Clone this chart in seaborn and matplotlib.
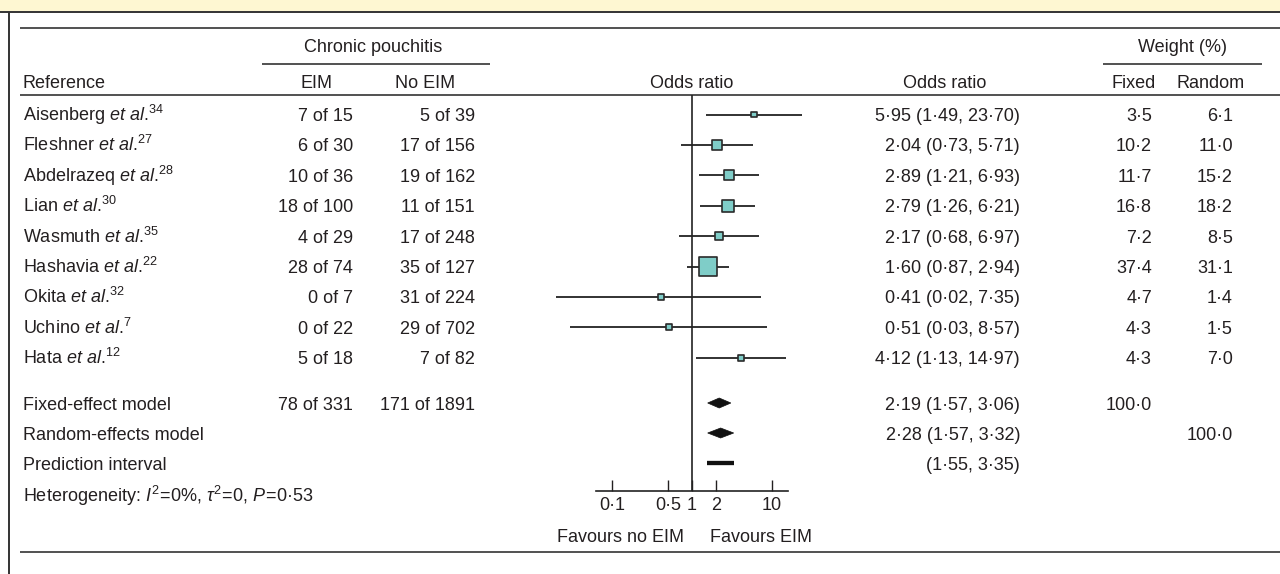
import numpy as np
import pandas as pd
import matplotlib
matplotlib.use("Agg")
import matplotlib.pyplot as plt
import seaborn as sns
from matplotlib.patches import Polygon, Rectangle
from matplotlib.ticker import NullLocator

sns.set_theme(style="white")
plt.rcParams["font.family"] = ["Liberation Sans", "DejaVu Sans"]
plt.rcParams["mathtext.fontset"] = "custom"
plt.rcParams["mathtext.rm"] = "Liberation Sans"
plt.rcParams["mathtext.it"] = "Liberation Sans:italic"
plt.rcParams["mathtext.bf"] = "Liberation Sans:bold"

# ---------------- data ----------------
studies = ["Aisenberg", "Fleshner", "Abdelrazeq", "Lian", "Wasmuth",
           "Hashavia", "Okita", "Uchino", "Hata"]
ref_nums = ["34", "27", "28", "30", "35", "22", "32", "7", "12"]
eim_events = [7, 6, 10, 18, 4, 28, 0, 0, 5]
eim_total = [15, 30, 36, 100, 29, 74, 7, 22, 18]
noeim_events = [5, 17, 19, 11, 17, 35, 31, 29, 7]
noeim_total = [39, 156, 162, 151, 248, 127, 224, 702, 82]
odds = [5.95, 2.04, 2.89, 2.79, 2.17, 1.60, 0.41, 0.51, 4.12]
ci_low = [1.49, 0.73, 1.21, 1.26, 0.68, 0.87, 0.02, 0.03, 1.13]
ci_high = [23.70, 5.71, 6.93, 6.21, 6.97, 2.94, 7.35, 8.57, 14.97]
w_fixed = [3.5, 10.2, 11.7, 16.8, 7.2, 37.4, 4.7, 4.3, 4.3]
w_random = [6.1, 11.0, 15.2, 18.2, 8.5, 31.1, 1.4, 1.5, 7.0]

fixed_total = ("78 of 331", "171 of 1891")
fixed_or = [2.19, 1.57, 3.06]
random_or = [2.28, 1.57, 3.32]
pred_int = [1.55, 3.35]
tick_vals = [0.1, 0.5, 1, 2, 10]
tick_labels = ["0·1", "0·5", "1", "2", "10"]

# ---------------- style ----------------
FS = 13
TXT = "#231f20"
RULE = "#333333"
TEAL = "#7fcdc8"
YELLOW = "#fef7d2"
W, H = 1280, 574


def fmt(v, d=2):
    return f"{v:.{d}f}".replace(".", "·")


fig = plt.figure(figsize=(W / 100, H / 100), dpi=100)
bg = fig.add_axes([0, 0, 1, 1])
bg.set_xlim(0, W)
bg.set_ylim(H, 0)
bg.axis("off")

base_off = 0.36 * FS * 100 / 72


def put(x, y, s, ha="left"):
    bg.text(x, y + base_off, s, ha=ha, va="baseline", fontsize=FS, color=TXT)


# frame
bg.add_patch(Rectangle((0, 0), W, 11, facecolor=YELLOW, edgecolor="none"))
bg.hlines(11.5, 0, W, color=RULE, lw=1.4)
bg.vlines(9, 11.5, H, color=RULE, lw=1.4)
for yy in (28, 95, 552):
    bg.hlines(yy, 20, W, color=RULE, lw=1.2)
bg.hlines(64, 262, 490, color=RULE, lw=1.2)
bg.hlines(64, 1103, 1262, color=RULE, lw=1.2)

# headers
put(373, 45, "Chronic pouchitis", "center")
put(1182, 45, "Weight (%)", "center")
put(23, 81, "Reference")
put(316, 81, "EIM", "center")
put(425, 81, "No EIM", "center")
put(692, 81, "Odds ratio", "center")
put(945, 81, "Odds ratio", "center")
put(1134, 81, "Fixed", "center")
put(1211, 81, "Random", "center")

X_EIM, X_NO, X_OR, X_WF, X_WR = 353, 475, 1020, 1152, 1233
row_y = [114.5 + 30.4 * i for i in range(len(studies))]
Y_FIXED, Y_RANDOM, Y_PRED, Y_HET = 403, 433, 463, 496

for i, name in enumerate(studies):
    y = row_y[i]
    put(23, y, name + r" $\it{et\ al}$." + r"$^{" + ref_nums[i] + r"}$")
    put(X_EIM, y, f"{eim_events[i]} of {eim_total[i]}", "right")
    put(X_NO, y, f"{noeim_events[i]} of {noeim_total[i]}", "right")
    put(X_OR, y, f"{fmt(odds[i])} ({fmt(ci_low[i])}, {fmt(ci_high[i])})", "right")
    put(X_WF, y, fmt(w_fixed[i], 1), "right")
    put(X_WR, y, fmt(w_random[i], 1), "right")

put(23, Y_FIXED, "Fixed-effect model")
put(X_EIM, Y_FIXED, fixed_total[0], "right")
put(X_NO, Y_FIXED, fixed_total[1], "right")
put(X_OR, Y_FIXED, f"{fmt(fixed_or[0])} ({fmt(fixed_or[1])}, {fmt(fixed_or[2])})", "right")
put(X_WF, Y_FIXED, fmt(100, 1), "right")
put(23, Y_RANDOM, "Random-effects model")
put(X_OR, Y_RANDOM, f"{fmt(random_or[0])} ({fmt(random_or[1])}, {fmt(random_or[2])})", "right")
put(X_WR, Y_RANDOM, fmt(100, 1), "right")
put(23, Y_PRED, "Prediction interval")
put(X_OR, Y_PRED, f"({fmt(pred_int[0])}, {fmt(pred_int[1])})", "right")
put(23, Y_HET, r"Heterogeneity: $I^{2}\!=\!0\%$, $\tau^{2}\!=\!0$, $P\!=\!0$·53")

put(684, 535, "Favours no EIM", "right")
put(710, 535, "Favours EIM", "left")

# ---------------- forest axes ----------------
AX_L, AX_R, AX_T, AX_B = 596, 788, 95, 490.7
fx = fig.add_axes([AX_L / W, (H - AX_B) / H, (AX_R - AX_L) / W, (AX_B - AX_T) / H])
fx.set_xscale("log")
fx.patch.set_alpha(0)

fx.hlines(row_y, ci_low, ci_high, color="#222222", lw=1.3, zorder=2, clip_on=False)

df = pd.DataFrame({"odds": odds, "y": row_y, "w": w_fixed})
smax = (18.3 * 0.72) ** 2
sns.scatterplot(data=df, x="odds", y="y", size="w", sizes=(0, smax),
                size_norm=(0, max(w_fixed)), marker="s", color=TEAL,
                edgecolor="#2a2a2a", linewidth=1.2, legend=False, ax=fx,
                zorder=3, clip_on=False)

for est, lo, hi, yy in ((fixed_or[0], fixed_or[1], fixed_or[2], Y_FIXED),
                        (random_or[0], random_or[1], random_or[2], Y_RANDOM)):
    fx.add_patch(Polygon([[lo, yy], [est, yy - 5], [hi, yy], [est, yy + 5]],
                         closed=True, facecolor="#111111", edgecolor="#111111",
                         lw=0.5, zorder=3))
fx.hlines(Y_PRED, pred_int[0], pred_int[1], color="#111111", lw=3.1,
          capstyle="butt", zorder=3)

fx.axvline(1, color="#222222", lw=1.2, zorder=1)
fx.set_xlim(10 ** -1.2, 10 ** 1.2)
fx.set_ylim(AX_B, AX_T)
fx.set_xlabel("")
fx.set_ylabel("")
fx.set_yticks([])
fx.set_xticks(tick_vals)
fx.set_xticklabels(tick_labels)
fx.xaxis.set_minor_locator(NullLocator())
fx.tick_params(axis="x", direction="in", length=7.7, width=1.0, pad=4.5,
               labelsize=FS, colors=TXT, bottom=True)
for side in ("top", "left", "right"):
    fx.spines[side].set_visible(False)
fx.spines["bottom"].set_color("#222222")
fx.spines["bottom"].set_linewidth(1.2)

fig.savefig("out.png", dpi=100)
